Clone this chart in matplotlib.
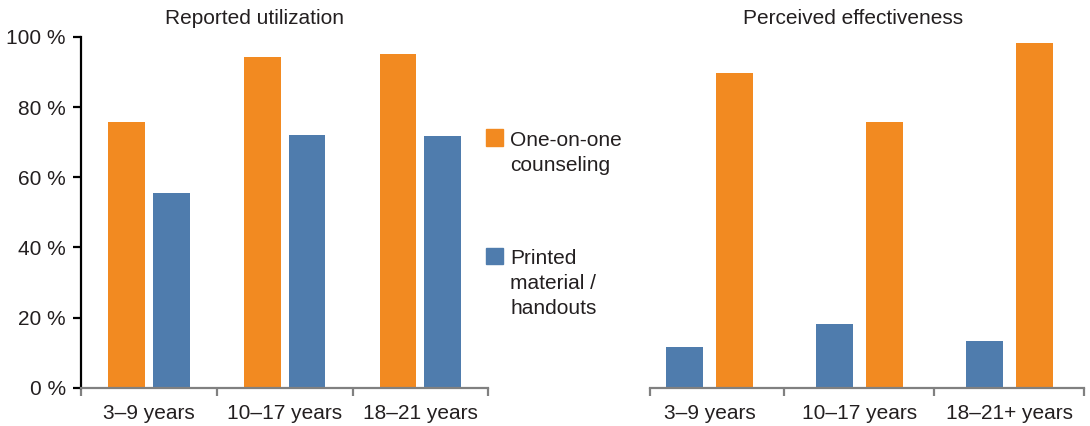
import matplotlib
matplotlib.use("Agg")
import matplotlib.pyplot as plt
from matplotlib.patches import Rectangle
import numpy as np

plt.rcParams['font.family'] = ['Liberation Sans', 'DejaVu Sans']

# --- Data ---
left_categories = ["3–9 years", "10–17 years", "18–21 years"]
right_categories = ["3–9 years", "10–17 years", "18–21+ years"]
util_counseling = [75.8, 94.3, 95.1]
util_printed = [55.5, 72.1, 71.8]
eff_printed = [11.6, 18.2, 13.3]
eff_counseling = [89.7, 75.8, 98.3]
y_ticks = [0, 20, 40, 60, 80, 100]
legend_labels = [["One-on-one", "counseling"], ["Printed", "material /", "handouts"]]

# --- Style ---
ORANGE = "#F28A21"
BLUE = "#4F7CAD"
TEXT = "#231F20"
GRAY = "#808080"
FS = 15

W, H = 1090, 426
fig = plt.figure(figsize=(W / 100, H / 100), dpi=100)


def px_axes(x0, x1, ytop, ybot):
    return fig.add_axes([x0 / W, 1 - ybot / H, (x1 - x0) / W, (ybot - ytop) / H])


def style_xaxis(ax, labels, left_lim):
    x = np.arange(len(labels))
    ax.set_xlim(left_lim, len(labels) - 0.5)
    ax.set_ylim(0, 100)
    for s in ["top", "right"]:
        ax.spines[s].set_visible(False)
    ax.spines["bottom"].set_color(GRAY)
    ax.spines["bottom"].set_linewidth(1.6)
    # boundary ticks (gray, pointing down), labels on minor ticks at centres
    ax.set_xticks([left_lim] + list(np.arange(0.5, len(labels), 1.0)))
    ax.set_xticklabels([])
    ax.tick_params(axis="x", which="major", direction="out", length=6,
                   width=1.6, color=GRAY)
    ax.set_xticks(x, minor=True)
    ax.set_xticklabels(labels, minor=True, fontsize=FS, color=TEXT)
    ax.tick_params(axis="x", which="minor", length=0, pad=12)


# title baseline sits 24 px below the top of the figure
title_y = (H - 24 - (H - 387.7)) / 350.7

# --- Left panel: Reported utilization ---
ax1 = px_axes(81, 488.3, 37, 387.7)
x = np.arange(len(left_categories))
ax1.bar(x - 0.165, util_counseling, width=0.27, color=ORANGE)
ax1.bar(x + 0.165, util_printed, width=0.27, color=BLUE)
style_xaxis(ax1, left_categories, -0.5)
ax1.spines["left"].set_color("black")
ax1.spines["left"].set_linewidth(1.6)
ax1.set_yticks(y_ticks)
ax1.set_yticklabels([f"{v} %" for v in y_ticks], fontsize=FS, color=TEXT)
ax1.tick_params(axis="y", direction="out", length=6, width=1.6, color="black", pad=5)
ax1.text(0.425, title_y, "Reported utilization", transform=ax1.transAxes,
         ha="center", va="baseline", fontsize=FS, color=TEXT)

# --- Right panel: Perceived effectiveness ---
ax2 = px_axes(650, 1084, 37, 387.7)
x = np.arange(len(right_categories))
ax2.bar(x - 0.167, eff_printed, width=0.247, color=BLUE)
ax2.bar(x + 0.167, eff_counseling, width=0.247, color=ORANGE)
style_xaxis(ax2, right_categories, -0.397)
ax2.spines["left"].set_visible(False)
ax2.set_yticks([])
ax2.text(0.468, title_y, "Perceived effectiveness",
         transform=ax2.transAxes, ha="center", va="baseline", fontsize=FS, color=TEXT)

# --- Legend (between the panels) ---
for color, lines, top in [(ORANGE, legend_labels[0], 129.3), (BLUE, legend_labels[1], 247.7)]:
    fig.add_artist(Rectangle((486 / W, 1 - (top + 16.5) / H), 16.7 / W, 16.5 / H,
                             transform=fig.transFigure, color=color))
    for i, line in enumerate(lines):
        fig.text(510 / W, 1 - (top + 16.5 + i * 25) / H, line, fontsize=FS,
                 color=TEXT, ha="left", va="baseline")

fig.savefig("out.png", dpi=100)
